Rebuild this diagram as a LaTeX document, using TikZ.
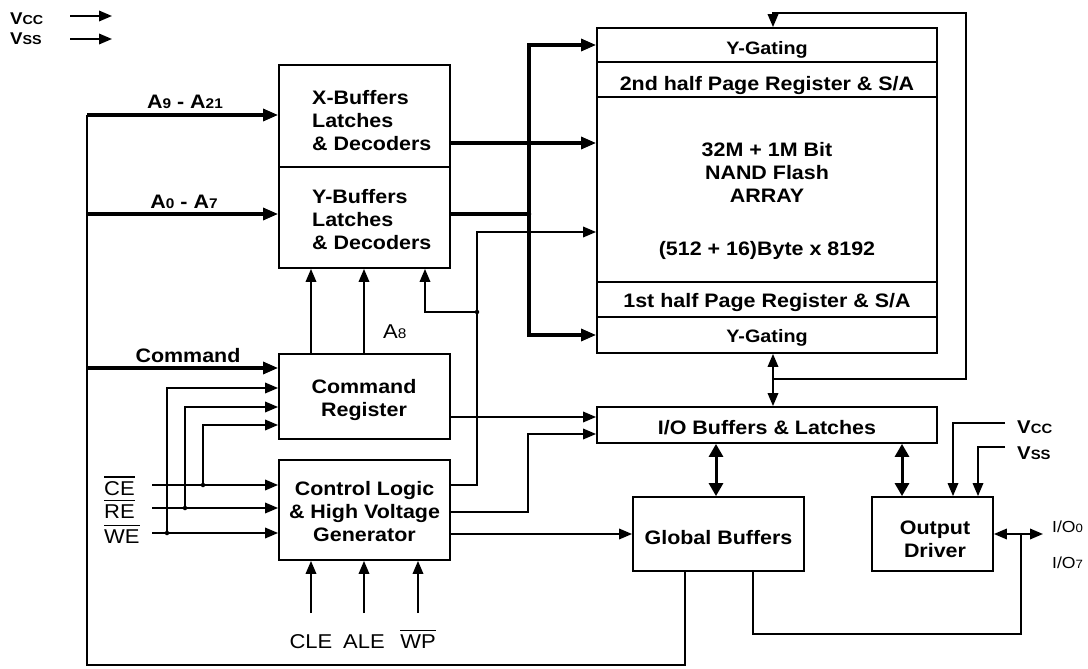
\documentclass[tikz,border=0pt]{standalone}
\usepackage{fontspec}
\setmainfont{Liberation Sans}[FakeStretch=1.1]
\usetikzlibrary{arrows.meta}
\newcommand\fbold{\fontsize{19.5}{23}\selectfont\bfseries}
\newcommand\freg{\fontsize{20}{23}\selectfont}
\newcommand\smallnum[1]{{\fontsize{14}{14}\selectfont #1}}
\newcommand\stk[2]{\begin{tabular}[t]{@{}#1@{}}#2\end{tabular}}
\newcommand\ovl[1]{\leavevmode\vbox{\hrule height 1.6pt\kern 3pt\hbox{#1}}}
\begin{document}
\begin{tikzpicture}[x=1pt,y=-1pt,
  box/.style={draw, line width=1.8pt, inner sep=0pt},
  txt/.style={inner sep=0pt, font=\fbold},
  rtxt/.style={inner sep=0pt, font=\freg},
  ln/.style={line width=1.8pt},
  thk/.style={line width=3.2pt},
  bus/.style={line width=2.4pt},
  tip/.style={-{Triangle[length=13pt,width=10.5pt]}},
  ttip/.style={-{Triangle[length=15pt,width=12pt]}},
  dbl/.style={line width=3pt, {Triangle[length=13pt,width=14pt]}-{Triangle[length=13pt,width=14pt]}},
  dbls/.style={line width=1.8pt, {Triangle[length=13pt,width=10.5pt]}-{Triangle[length=13pt,width=10.5pt]}},
  dot/.style={circle, fill, inner sep=0pt, minimum size=4.5pt},
]
\useasboundingbox (0,0) rectangle (1088,669);

% ---------- boxes
\node[box, minimum width=171pt, minimum height=102pt] (xbuf) at (364.5,116) {};
\node[box, minimum width=171pt, minimum height=101pt] (ybuf) at (364.5,217.5) {};
\node[box, minimum width=171pt, minimum height=85pt] (cmdreg) at (364.5,396.5) {};
\node[box, minimum width=171pt, minimum height=100pt] (ctrl) at (364.5,510) {};
\node[box, minimum width=340pt, minimum height=34pt] (ygt) at (767,45) {};
\node[box, minimum width=340pt, minimum height=35pt] (sec) at (767,79.5) {};
\node[box, minimum width=340pt, minimum height=185pt] (core) at (767,189.5) {};
\node[box, minimum width=340pt, minimum height=35pt] (first) at (767,299.5) {};
\node[box, minimum width=340pt, minimum height=36pt] (ygb) at (767,335) {};
\node[box, minimum width=340pt, minimum height=36pt] (io) at (767,425) {};
\node[box, minimum width=171pt, minimum height=74pt] (glob) at (718.5,534) {};
\node[box, minimum width=121pt, minimum height=74pt] (outdrv) at (932.5,534) {};

% ---------- box texts
\node[txt, anchor=base west] (xbuft) at (312,105) {\stk{l}{X-Buffers\\Latches\\\& Decoders}};
\node[txt, anchor=base west] (ybuft) at (312,203) {\stk{l}{Y-Buffers\\Latches\\\& Decoders}};
\node[txt, anchor=base] (ygtt) at (767,55) {\fontsize{18}{20}\selectfont Y-Gating};
\node[txt, anchor=base] (sect) at (767,91) {2nd half Page Register \& S/A};
\node[txt, anchor=base] (coret) at (767,157) {\stk{c}{32M + 1M Bit\\NAND Flash\\ARRAY}};
\node[txt, anchor=base] (coret2) at (767,255) {(512 + 16)Byte x 8192};
\node[txt, anchor=base] (firstt) at (767,307) {1st half Page Register \& S/A};
\node[txt, anchor=base] (ygbt) at (767,342) {\fontsize{18}{20}\selectfont Y-Gating};
\node[txt, anchor=base] (iot) at (767,434) {I/O Buffers \& Latches};
\node[txt, anchor=base] (globt) at (718.5,544) {Global Buffers};
\node[txt, anchor=base] (outdrvt) at (935,534) {\stk{c}{Output\\Driver}};
\node[txt, anchor=base] (cmdregt) at (364,393) {\stk{c}{Command\\Register}};
\node[txt, anchor=base] (ctrlt) at (364.5,495) {\stk{c}{Control Logic\\\& High Voltage\\Generator}};

% ---------- labels
\node[txt, anchor=base] (la9) at (185,108) {A\smallnum{9} - A\smallnum{21}};
\node[txt, anchor=base] (la0) at (184,208) {A\smallnum{0} - A\smallnum{7}};
\node[txt, anchor=base] (lcmd) at (188,362) {Command};
\node[rtxt, anchor=base west] (la8) at (383,338) {A\smallnum{8}};
\node[rtxt, anchor=base west] (lce) at (104,495) {\ovl{CE}};
\node[rtxt, anchor=base west] (lre) at (104,518) {\ovl{RE}};
\node[rtxt, anchor=base west] (lwe) at (104,543) {\ovl{WE}};
\node[rtxt, anchor=base] (lcle) at (311,648) {CLE};
\node[rtxt, anchor=base] (lale) at (364,648) {ALE};
\node[rtxt, anchor=base] (lwp) at (418,648) {\ovl{WP}};
\node[inner sep=0pt, font=\fontsize{16}{16}\selectfont, anchor=base west] (lio0) at (1052,532) {I/O{\fontsize{12}{12}\selectfont 0}};
\node[inner sep=0pt, font=\fontsize{16}{16}\selectfont, anchor=base west] (lio7) at (1052,568) {I/O{\fontsize{12}{12}\selectfont 7}};
\node[txt, anchor=base west] (lvccr) at (1017,433) {\fontsize{18.5}{18}\selectfont V{\fontsize{13.5}{13}\selectfont CC}};
\node[txt, anchor=base west] (lvssr) at (1017,459) {\fontsize{18.5}{18}\selectfont V{\fontsize{13.5}{13}\selectfont SS}};
\node[txt, anchor=base west] (lvcc) at (10,25) {\fontsize{17}{17}\selectfont V{\fontsize{13}{13}\selectfont CC}};
\node[txt, anchor=base west] (lvss) at (10,45) {\fontsize{17}{17}\selectfont V{\fontsize{13}{13}\selectfont SS}};

% ---------- coordinates
\coordinate (busTop) at (87,115);
\coordinate (busA0) at (87,214);
\coordinate (busCmd) at (87,368);
\coordinate (busBot) at (87,665);
\coordinate (gbBot) at (685,665);
\coordinate (xoY) at (500,143);
\coordinate (yb) at (529,214);
\coordinate (cv) at (477,232);
\coordinate (c1) at (477,485);
\coordinate (cdot) at (477,312);
\coordinate (yb3) at (425,312);
\coordinate (c2) at (528,512);
\coordinate (c2t) at (528,434);
\coordinate (crY) at (500,417);
\coordinate (u1) at (311,300);
\coordinate (u2) at (364,300);
\coordinate (ceS) at (152,485);
\coordinate (reS) at (152,508);
\coordinate (weS) at (152,533);
\coordinate (ceD) at (203,485);
\coordinate (reD) at (185,508);
\coordinate (weD) at (167,533);
\coordinate (ceU) at (203,425);
\coordinate (reU) at (185,407);
\coordinate (weU) at (167,388);
\coordinate (cleS) at (311,613);
\coordinate (aleS) at (364,613);
\coordinate (wpS) at (418,613);
\coordinate (fb) at (773,379);
\coordinate (fbR) at (966,379);
\coordinate (fbT) at (966,13);
\coordinate (fbL) at (773,13);
\coordinate (gx) at (716,470);
\coordinate (ox) at (902,470);
\coordinate (vccE) at (1005,423);
\coordinate (vccC) at (953,423);
\coordinate (vssE) at (1005,447);
\coordinate (vssC) at (978,447);
\coordinate (ioR) at (1043,534);
\coordinate (ioJ) at (1021,534);
\coordinate (ioB) at (1021,634);
\coordinate (gbR) at (753,634);
\coordinate (tVccS) at (70,16);
\coordinate (tVccE) at (112,16);
\coordinate (tVssS) at (70,39);
\coordinate (tVssE) at (112,39);

% ---------- connectors
\draw[ln, tip] (tVccS) -- (tVccE);
\draw[ln, tip] (tVssS) -- (tVssE);

\draw[bus] (busTop) -- (busBot) -- (gbBot) -- (gbBot |- glob.south);
\draw[thk, ttip] (busTop) -- (busTop -| xbuf.west);
\draw[thk, ttip] (busA0) -- (busA0 -| ybuf.west);
\draw[thk, ttip] (busCmd) -- (busCmd -| cmdreg.west);

\draw[thk, ttip] (xbuf.east |- xoY) -- (core.west |- xoY);
\draw[thk] (ybuf.east |- yb) -- (yb);
\draw[thk, {Triangle[length=15pt,width=12pt]}-{Triangle[length=15pt,width=12pt]}]
  (ygt.west) -- (yb |- ygt.west) -- (yb |- ygb.west) -- (ygb.west);
\node[dot] at (yb) {};

\draw[ln, tip] (c1 -| ctrl.east) -- (c1) -- (cv) -- (cv -| core.west);
\draw[ln, tip] (cdot) -- (yb3) -- (yb3 |- ybuf.south);
\node[dot] at (cdot) {};
\draw[ln, tip] (c2 -| ctrl.east) -- (c2) -- (c2t) -- (c2t -| io.west);
\draw[ln, tip] (cmdreg.east |- crY) -- (io.west |- crY);
\draw[ln, tip] (ctrl.east |- glob.west) -- (glob.west);

\draw[ln, tip] (cmdreg.north -| u1) -- (ybuf.south -| u1);
\draw[ln, tip] (cmdreg.north -| u2) -- (ybuf.south -| u2);

\draw[ln, tip] (ceS) -- (ceS -| ctrl.west);
\draw[ln, tip] (reS) -- (reS -| ctrl.west);
\draw[ln, tip] (weS) -- (weS -| ctrl.west);
\draw[ln, tip] (ceD) -- (ceU) -- (ceU -| cmdreg.west);
\draw[ln, tip] (reD) -- (reU) -- (reU -| cmdreg.west);
\draw[ln, tip] (weD) -- (weU) -- (weU -| cmdreg.west);
\node[dot] at (ceD) {};
\node[dot] at (reD) {};
\node[dot] at (weD) {};

\draw[ln, tip] (cleS) -- (cleS |- ctrl.south);
\draw[ln, tip] (aleS) -- (aleS |- ctrl.south);
\draw[ln, tip] (wpS) -- (wpS |- ctrl.south);

\draw[dbls] (ygb.south -| fb) -- (io.north -| fb);
\draw[ln, tip] (fb) -- (fbR) -- (fbT) -- (fbL) -- (ygt.north -| fbL);

\draw[dbl] (io.south -| gx) -- (glob.north -| gx);
\draw[dbl] (io.south -| ox) -- (outdrv.north -| ox);

\draw[ln, tip] (vccE) -- (vccC) -- (vccC |- outdrv.north);
\draw[ln, tip] (vssE) -- (vssC) -- (vssC |- outdrv.north);

\draw[ln, {Triangle[length=13pt,width=10.5pt]}-{Triangle[length=13pt,width=10.5pt]}] (outdrv.east) -- (ioR);
\draw[ln] (ioJ) -- (ioB) -- (gbR) -- (gbR |- glob.south);
\end{tikzpicture}
\end{document}
